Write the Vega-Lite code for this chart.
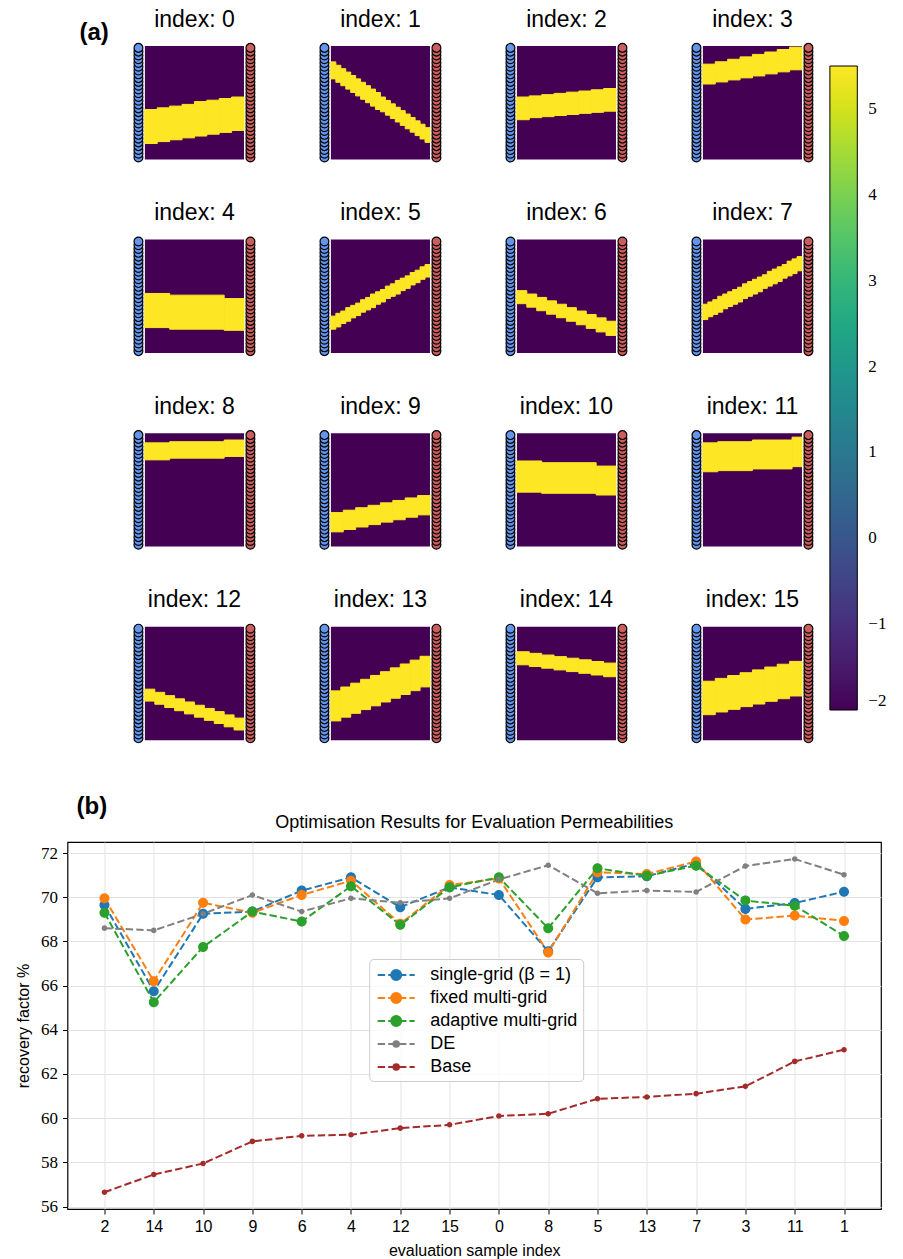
{
"$schema":"https://vega.github.io/schema/vega-lite/v6.json",
"padding":{"left":14.5,"top":8,"right":10,"bottom":5},
"background":"white",
"config":{"view":{"stroke":null},"font":"Liberation Sans","title":{"fontWeight":"normal","color":"black"}},
"datasets":{
"cells":[
{"p":0,"c0":0,"c1":20,"t":0,"b":1,"v":-2},{"p":1,"c0":0,"c1":20,"t":0,"b":1,"v":-2},{"p":2,"c0":0,"c1":20,"t":0,"b":1,"v":-2},{"p":3,"c0":0,"c1":20,"t":0,"b":1,"v":-2},
{"p":4,"c0":0,"c1":20,"t":0,"b":1,"v":-2},{"p":5,"c0":0,"c1":20,"t":0,"b":1,"v":-2},{"p":6,"c0":0,"c1":20,"t":0,"b":1,"v":-2},{"p":7,"c0":0,"c1":20,"t":0,"b":1,"v":-2},
{"p":8,"c0":0,"c1":20,"t":0,"b":1,"v":-2},{"p":9,"c0":0,"c1":20,"t":0,"b":1,"v":-2},{"p":10,"c0":0,"c1":20,"t":0,"b":1,"v":-2},{"p":11,"c0":0,"c1":20,"t":0,"b":1,"v":-2},
{"p":12,"c0":0,"c1":20,"t":0,"b":1,"v":-2},{"p":13,"c0":0,"c1":20,"t":0,"b":1,"v":-2},{"p":14,"c0":0,"c1":20,"t":0,"b":1,"v":-2},{"p":15,"c0":0,"c1":20,"t":0,"b":1,"v":-2},
{"p":0,"c0":0,"c1":2.5,"t":0.56,"b":0.86,"v":5.5},{"p":0,"c0":2.5,"c1":5,"t":0.545,"b":0.843,"v":5.5},{"p":0,"c0":5,"c1":7.5,"t":0.53,"b":0.827,"v":5.5},{"p":0,"c0":7.5,"c1":10,"t":0.515,"b":0.81,"v":5.5},
{"p":0,"c0":10,"c1":12.5,"t":0.49,"b":0.794,"v":5.5},{"p":0,"c0":12.5,"c1":15,"t":0.478,"b":0.778,"v":5.5},{"p":0,"c0":15,"c1":17.5,"t":0.463,"b":0.762,"v":5.5},{"p":0,"c0":17.5,"c1":20,"t":0.45,"b":0.745,"v":5.5},
{"p":1,"c0":0,"c1":1,"t":0.14,"b":0.29,"v":5.5},{"p":1,"c0":1,"c1":2,"t":0.17,"b":0.32,"v":5.5},{"p":1,"c0":2,"c1":3,"t":0.2,"b":0.35,"v":5.5},{"p":1,"c0":3,"c1":4,"t":0.23,"b":0.38,"v":5.5},
{"p":1,"c0":4,"c1":5,"t":0.26,"b":0.41,"v":5.5},{"p":1,"c0":5,"c1":6,"t":0.29,"b":0.44,"v":5.5},{"p":1,"c0":6,"c1":7,"t":0.32,"b":0.47,"v":5.5},{"p":1,"c0":7,"c1":8,"t":0.35,"b":0.5,"v":5.5},
{"p":1,"c0":8,"c1":9,"t":0.38,"b":0.53,"v":5.5},{"p":1,"c0":9,"c1":10,"t":0.41,"b":0.56,"v":5.5},{"p":1,"c0":10,"c1":11,"t":0.45,"b":0.58,"v":5.5},{"p":1,"c0":11,"c1":12,"t":0.48,"b":0.61,"v":5.5},
{"p":1,"c0":12,"c1":13,"t":0.51,"b":0.64,"v":5.5},{"p":1,"c0":13,"c1":14,"t":0.54,"b":0.67,"v":5.5},{"p":1,"c0":14,"c1":15,"t":0.57,"b":0.7,"v":5.5},{"p":1,"c0":15,"c1":16,"t":0.6,"b":0.73,"v":5.5},
{"p":1,"c0":16,"c1":17,"t":0.63,"b":0.76,"v":5.5},{"p":1,"c0":17,"c1":18,"t":0.66,"b":0.79,"v":5.5},{"p":1,"c0":18,"c1":19,"t":0.69,"b":0.82,"v":5.5},{"p":1,"c0":19,"c1":20,"t":0.72,"b":0.85,"v":5.5},
{"p":2,"c0":0,"c1":2.5,"t":0.45,"b":0.65,"v":5.5},{"p":2,"c0":2.5,"c1":5,"t":0.44,"b":0.632,"v":5.5},{"p":2,"c0":5,"c1":7.5,"t":0.429,"b":0.623,"v":5.5},{"p":2,"c0":7.5,"c1":10,"t":0.418,"b":0.613,"v":5.5},
{"p":2,"c0":10,"c1":12.5,"t":0.407,"b":0.604,"v":5.5},{"p":2,"c0":12.5,"c1":15,"t":0.397,"b":0.594,"v":5.5},{"p":2,"c0":15,"c1":17.5,"t":0.386,"b":0.585,"v":5.5},{"p":2,"c0":17.5,"c1":20,"t":0.375,"b":0.575,"v":5.5},
{"p":3,"c0":0,"c1":2.5,"t":0.16,"b":0.335,"v":5.5},{"p":3,"c0":2.5,"c1":5,"t":0.139,"b":0.317,"v":5.5},{"p":3,"c0":5,"c1":7.5,"t":0.117,"b":0.299,"v":5.5},{"p":3,"c0":7.5,"c1":10,"t":0.096,"b":0.281,"v":5.5},
{"p":3,"c0":10,"c1":12.5,"t":0.074,"b":0.264,"v":5.5},{"p":3,"c0":12.5,"c1":15,"t":0.053,"b":0.246,"v":5.5},{"p":3,"c0":15,"c1":17.5,"t":0.031,"b":0.228,"v":5.5},{"p":3,"c0":17.5,"c1":20,"t":0.01,"b":0.21,"v":5.5},
{"p":4,"c0":0,"c1":5,"t":0.475,"b":0.776,"v":5.5},{"p":4,"c0":5,"c1":16,"t":0.49,"b":0.79,"v":5.5},{"p":4,"c0":16,"c1":20,"t":0.52,"b":0.8,"v":5.5},
{"p":5,"c0":0,"c1":1,"t":0.675,"b":0.79,"v":5.5},{"p":5,"c0":1,"c1":2,"t":0.65,"b":0.77,"v":5.5},{"p":5,"c0":2,"c1":3,"t":0.63,"b":0.74,"v":5.5},{"p":5,"c0":3,"c1":4,"t":0.6,"b":0.72,"v":5.5},
{"p":5,"c0":4,"c1":5,"t":0.58,"b":0.69,"v":5.5},{"p":5,"c0":5,"c1":6,"t":0.56,"b":0.67,"v":5.5},{"p":5,"c0":6,"c1":7,"t":0.53,"b":0.64,"v":5.5},{"p":5,"c0":7,"c1":8,"t":0.51,"b":0.62,"v":5.5},
{"p":5,"c0":8,"c1":9,"t":0.48,"b":0.6,"v":5.5},{"p":5,"c0":9,"c1":10,"t":0.46,"b":0.57,"v":5.5},{"p":5,"c0":10,"c1":11,"t":0.44,"b":0.55,"v":5.5},{"p":5,"c0":11,"c1":12,"t":0.41,"b":0.52,"v":5.5},
{"p":5,"c0":12,"c1":13,"t":0.39,"b":0.5,"v":5.5},{"p":5,"c0":13,"c1":14,"t":0.36,"b":0.48,"v":5.5},{"p":5,"c0":14,"c1":15,"t":0.34,"b":0.45,"v":5.5},{"p":5,"c0":15,"c1":16,"t":0.32,"b":0.43,"v":5.5},
{"p":5,"c0":16,"c1":17,"t":0.29,"b":0.4,"v":5.5},{"p":5,"c0":17,"c1":18,"t":0.27,"b":0.38,"v":5.5},{"p":5,"c0":18,"c1":19,"t":0.24,"b":0.35,"v":5.5},{"p":5,"c0":19,"c1":20,"t":0.22,"b":0.33,"v":5.5},
{"p":6,"c0":0,"c1":2,"t":0.45,"b":0.565,"v":5.5},{"p":6,"c0":2,"c1":4,"t":0.48,"b":0.596,"v":5.5},{"p":6,"c0":4,"c1":6,"t":0.51,"b":0.627,"v":5.5},{"p":6,"c0":6,"c1":8,"t":0.54,"b":0.658,"v":5.5},
{"p":6,"c0":8,"c1":10,"t":0.57,"b":0.689,"v":5.5},{"p":6,"c0":10,"c1":12,"t":0.6,"b":0.72,"v":5.5},{"p":6,"c0":12,"c1":14,"t":0.63,"b":0.751,"v":5.5},{"p":6,"c0":14,"c1":16,"t":0.66,"b":0.783,"v":5.5},
{"p":6,"c0":16,"c1":18,"t":0.69,"b":0.814,"v":5.5},{"p":6,"c0":18,"c1":20,"t":0.72,"b":0.845,"v":5.5},
{"p":7,"c0":0,"c1":1,"t":0.57,"b":0.705,"v":5.5},{"p":7,"c0":1,"c1":2,"t":0.55,"b":0.68,"v":5.5},{"p":7,"c0":2,"c1":3,"t":0.53,"b":0.66,"v":5.5},{"p":7,"c0":3,"c1":4,"t":0.5,"b":0.64,"v":5.5},
{"p":7,"c0":4,"c1":5,"t":0.48,"b":0.61,"v":5.5},{"p":7,"c0":5,"c1":6,"t":0.46,"b":0.59,"v":5.5},{"p":7,"c0":6,"c1":7,"t":0.44,"b":0.57,"v":5.5},{"p":7,"c0":7,"c1":8,"t":0.42,"b":0.55,"v":5.5},
{"p":7,"c0":8,"c1":9,"t":0.39,"b":0.52,"v":5.5},{"p":7,"c0":9,"c1":10,"t":0.37,"b":0.5,"v":5.5},{"p":7,"c0":10,"c1":11,"t":0.35,"b":0.48,"v":5.5},{"p":7,"c0":11,"c1":12,"t":0.33,"b":0.46,"v":5.5},
{"p":7,"c0":12,"c1":13,"t":0.31,"b":0.43,"v":5.5},{"p":7,"c0":13,"c1":14,"t":0.28,"b":0.41,"v":5.5},{"p":7,"c0":14,"c1":15,"t":0.26,"b":0.39,"v":5.5},{"p":7,"c0":15,"c1":16,"t":0.24,"b":0.37,"v":5.5},
{"p":7,"c0":16,"c1":17,"t":0.22,"b":0.34,"v":5.5},{"p":7,"c0":17,"c1":18,"t":0.19,"b":0.32,"v":5.5},{"p":7,"c0":18,"c1":19,"t":0.17,"b":0.3,"v":5.5},{"p":7,"c0":19,"c1":20,"t":0.15,"b":0.275,"v":5.5},
{"p":8,"c0":0,"c1":5,"t":0.085,"b":0.235,"v":5.5},{"p":8,"c0":5,"c1":16,"t":0.075,"b":0.22,"v":5.5},{"p":8,"c0":16,"c1":20,"t":0.06,"b":0.205,"v":5.5},
{"p":9,"c0":0,"c1":2.5,"t":0.7,"b":0.87,"v":5.5},{"p":9,"c0":2.5,"c1":5,"t":0.679,"b":0.849,"v":5.5},{"p":9,"c0":5,"c1":7.5,"t":0.657,"b":0.827,"v":5.5},{"p":9,"c0":7.5,"c1":10,"t":0.636,"b":0.806,"v":5.5},
{"p":9,"c0":10,"c1":12.5,"t":0.614,"b":0.784,"v":5.5},{"p":9,"c0":12.5,"c1":15,"t":0.593,"b":0.763,"v":5.5},{"p":9,"c0":15,"c1":17.5,"t":0.571,"b":0.741,"v":5.5},{"p":9,"c0":17.5,"c1":20,"t":0.55,"b":0.72,"v":5.5},
{"p":10,"c0":0,"c1":5,"t":0.245,"b":0.52,"v":5.5},{"p":10,"c0":5,"c1":16,"t":0.26,"b":0.53,"v":5.5},{"p":10,"c0":16,"c1":20,"t":0.29,"b":0.545,"v":5.5},
{"p":11,"c0":0,"c1":3,"t":0.085,"b":0.34,"v":5.5},{"p":11,"c0":3,"c1":10,"t":0.075,"b":0.33,"v":5.5},{"p":11,"c0":10,"c1":18,"t":0.06,"b":0.315,"v":5.5},{"p":11,"c0":18,"c1":20,"t":0.035,"b":0.295,"v":5.5},
{"p":12,"c0":0,"c1":2,"t":0.55,"b":0.655,"v":5.5},{"p":12,"c0":2,"c1":4,"t":0.578,"b":0.683,"v":5.5},{"p":12,"c0":4,"c1":6,"t":0.607,"b":0.712,"v":5.5},{"p":12,"c0":6,"c1":8,"t":0.635,"b":0.74,"v":5.5},
{"p":12,"c0":8,"c1":10,"t":0.663,"b":0.768,"v":5.5},{"p":12,"c0":10,"c1":12,"t":0.692,"b":0.797,"v":5.5},{"p":12,"c0":12,"c1":14,"t":0.72,"b":0.825,"v":5.5},{"p":12,"c0":14,"c1":16,"t":0.748,"b":0.853,"v":5.5},
{"p":12,"c0":16,"c1":18,"t":0.777,"b":0.882,"v":5.5},{"p":12,"c0":18,"c1":20,"t":0.805,"b":0.91,"v":5.5},
{"p":13,"c0":0,"c1":2,"t":0.565,"b":0.83,"v":5.5},{"p":13,"c0":2,"c1":4,"t":0.531,"b":0.797,"v":5.5},{"p":13,"c0":4,"c1":6,"t":0.497,"b":0.763,"v":5.5},{"p":13,"c0":6,"c1":8,"t":0.463,"b":0.73,"v":5.5},
{"p":13,"c0":8,"c1":10,"t":0.429,"b":0.697,"v":5.5},{"p":13,"c0":10,"c1":12,"t":0.396,"b":0.663,"v":5.5},{"p":13,"c0":12,"c1":14,"t":0.362,"b":0.63,"v":5.5},{"p":13,"c0":14,"c1":16,"t":0.328,"b":0.597,"v":5.5},
{"p":13,"c0":16,"c1":18,"t":0.294,"b":0.563,"v":5.5},{"p":13,"c0":18,"c1":20,"t":0.26,"b":0.53,"v":5.5},
{"p":14,"c0":0,"c1":2.5,"t":0.22,"b":0.335,"v":5.5},{"p":14,"c0":2.5,"c1":5,"t":0.234,"b":0.35,"v":5.5},{"p":14,"c0":5,"c1":7.5,"t":0.249,"b":0.365,"v":5.5},{"p":14,"c0":7.5,"c1":10,"t":0.263,"b":0.38,"v":5.5},
{"p":14,"c0":10,"c1":12.5,"t":0.277,"b":0.395,"v":5.5},{"p":14,"c0":12.5,"c1":15,"t":0.291,"b":0.41,"v":5.5},{"p":14,"c0":15,"c1":17.5,"t":0.306,"b":0.425,"v":5.5},{"p":14,"c0":17.5,"c1":20,"t":0.32,"b":0.44,"v":5.5},
{"p":15,"c0":0,"c1":2.5,"t":0.48,"b":0.775,"v":5.5},{"p":15,"c0":2.5,"c1":5,"t":0.455,"b":0.751,"v":5.5},{"p":15,"c0":5,"c1":7.5,"t":0.43,"b":0.728,"v":5.5},{"p":15,"c0":7.5,"c1":10,"t":0.405,"b":0.704,"v":5.5},
{"p":15,"c0":10,"c1":12.5,"t":0.38,"b":0.681,"v":5.5},{"p":15,"c0":12.5,"c1":15,"t":0.355,"b":0.657,"v":5.5},{"p":15,"c0":15,"c1":17.5,"t":0.33,"b":0.634,"v":5.5},{"p":15,"c0":17.5,"c1":20,"t":0.305,"b":0.61,"v":5.5}
],
"wells":[
{"s":"inj","x":-1.3,"r":29.5},{"s":"inj","x":-1.3,"r":28.5},{"s":"inj","x":-1.3,"r":27.5},{"s":"inj","x":-1.3,"r":26.5},{"s":"inj","x":-1.3,"r":25.5},{"s":"inj","x":-1.3,"r":24.5},
{"s":"inj","x":-1.3,"r":23.5},{"s":"inj","x":-1.3,"r":22.5},{"s":"inj","x":-1.3,"r":21.5},{"s":"inj","x":-1.3,"r":20.5},{"s":"inj","x":-1.3,"r":19.5},{"s":"inj","x":-1.3,"r":18.5},
{"s":"inj","x":-1.3,"r":17.5},{"s":"inj","x":-1.3,"r":16.5},{"s":"inj","x":-1.3,"r":15.5},{"s":"inj","x":-1.3,"r":14.5},{"s":"inj","x":-1.3,"r":13.5},{"s":"inj","x":-1.3,"r":12.5},
{"s":"inj","x":-1.3,"r":11.5},{"s":"inj","x":-1.3,"r":10.5},{"s":"inj","x":-1.3,"r":9.5},{"s":"inj","x":-1.3,"r":8.5},{"s":"inj","x":-1.3,"r":7.5},{"s":"inj","x":-1.3,"r":6.5},
{"s":"inj","x":-1.3,"r":5.5},{"s":"inj","x":-1.3,"r":4.5},{"s":"inj","x":-1.3,"r":3.5},{"s":"inj","x":-1.3,"r":2.5},{"s":"inj","x":-1.3,"r":1.5},{"s":"inj","x":-1.3,"r":0.5},
{"s":"prod","x":21.3,"r":29.5},{"s":"prod","x":21.3,"r":28.5},{"s":"prod","x":21.3,"r":27.5},{"s":"prod","x":21.3,"r":26.5},{"s":"prod","x":21.3,"r":25.5},{"s":"prod","x":21.3,"r":24.5},
{"s":"prod","x":21.3,"r":23.5},{"s":"prod","x":21.3,"r":22.5},{"s":"prod","x":21.3,"r":21.5},{"s":"prod","x":21.3,"r":20.5},{"s":"prod","x":21.3,"r":19.5},{"s":"prod","x":21.3,"r":18.5},
{"s":"prod","x":21.3,"r":17.5},{"s":"prod","x":21.3,"r":16.5},{"s":"prod","x":21.3,"r":15.5},{"s":"prod","x":21.3,"r":14.5},{"s":"prod","x":21.3,"r":13.5},{"s":"prod","x":21.3,"r":12.5},
{"s":"prod","x":21.3,"r":11.5},{"s":"prod","x":21.3,"r":10.5},{"s":"prod","x":21.3,"r":9.5},{"s":"prod","x":21.3,"r":8.5},{"s":"prod","x":21.3,"r":7.5},{"s":"prod","x":21.3,"r":6.5},
{"s":"prod","x":21.3,"r":5.5},{"s":"prod","x":21.3,"r":4.5},{"s":"prod","x":21.3,"r":3.5},{"s":"prod","x":21.3,"r":2.5},{"s":"prod","x":21.3,"r":1.5},{"s":"prod","x":21.3,"r":0.5}
],
"results":[
{"idx":2,"series":"single-grid (β = 1)","rf":69.65},{"idx":14,"series":"single-grid (β = 1)","rf":65.75},{"idx":10,"series":"single-grid (β = 1)","rf":69.25},{"idx":9,"series":"single-grid (β = 1)","rf":69.35},
{"idx":6,"series":"single-grid (β = 1)","rf":70.3},{"idx":4,"series":"single-grid (β = 1)","rf":70.9},{"idx":12,"series":"single-grid (β = 1)","rf":69.55},{"idx":15,"series":"single-grid (β = 1)","rf":70.45},
{"idx":0,"series":"single-grid (β = 1)","rf":70.1},{"idx":8,"series":"single-grid (β = 1)","rf":67.55},{"idx":5,"series":"single-grid (β = 1)","rf":70.9},{"idx":13,"series":"single-grid (β = 1)","rf":70.95},
{"idx":7,"series":"single-grid (β = 1)","rf":71.53},{"idx":3,"series":"single-grid (β = 1)","rf":69.47},{"idx":11,"series":"single-grid (β = 1)","rf":69.74},{"idx":1,"series":"single-grid (β = 1)","rf":70.25},
{"idx":2,"series":"fixed multi-grid","rf":69.95},{"idx":14,"series":"fixed multi-grid","rf":66.2},{"idx":10,"series":"fixed multi-grid","rf":69.75},{"idx":9,"series":"fixed multi-grid","rf":69.3},
{"idx":6,"series":"fixed multi-grid","rf":70.1},{"idx":4,"series":"fixed multi-grid","rf":70.75},{"idx":12,"series":"fixed multi-grid","rf":68.8},{"idx":15,"series":"fixed multi-grid","rf":70.55},
{"idx":0,"series":"fixed multi-grid","rf":70.85},{"idx":8,"series":"fixed multi-grid","rf":67.5},{"idx":5,"series":"fixed multi-grid","rf":71.13},{"idx":13,"series":"fixed multi-grid","rf":71.05},
{"idx":7,"series":"fixed multi-grid","rf":71.62},{"idx":3,"series":"fixed multi-grid","rf":68.99},{"idx":11,"series":"fixed multi-grid","rf":69.17},{"idx":1,"series":"fixed multi-grid","rf":68.93},
{"idx":2,"series":"adaptive multi-grid","rf":69.3},{"idx":14,"series":"adaptive multi-grid","rf":65.25},{"idx":10,"series":"adaptive multi-grid","rf":67.75},{"idx":9,"series":"adaptive multi-grid","rf":69.35},
{"idx":6,"series":"adaptive multi-grid","rf":68.9},{"idx":4,"series":"adaptive multi-grid","rf":70.5},{"idx":12,"series":"adaptive multi-grid","rf":68.75},{"idx":15,"series":"adaptive multi-grid","rf":70.45},
{"idx":0,"series":"adaptive multi-grid","rf":70.9},{"idx":8,"series":"adaptive multi-grid","rf":68.6},{"idx":5,"series":"adaptive multi-grid","rf":71.31},{"idx":13,"series":"adaptive multi-grid","rf":70.97},
{"idx":7,"series":"adaptive multi-grid","rf":71.43},{"idx":3,"series":"adaptive multi-grid","rf":69.85},{"idx":11,"series":"adaptive multi-grid","rf":69.62},{"idx":1,"series":"adaptive multi-grid","rf":68.25},
{"idx":2,"series":"DE","rf":68.6},{"idx":14,"series":"DE","rf":68.5},{"idx":10,"series":"DE","rf":69.25},{"idx":9,"series":"DE","rf":70.1},
{"idx":6,"series":"DE","rf":69.35},{"idx":4,"series":"DE","rf":69.95},{"idx":12,"series":"DE","rf":69.75},{"idx":15,"series":"DE","rf":69.95},
{"idx":0,"series":"DE","rf":70.8},{"idx":8,"series":"DE","rf":71.45},{"idx":5,"series":"DE","rf":70.18},{"idx":13,"series":"DE","rf":70.3},
{"idx":7,"series":"DE","rf":70.24},{"idx":3,"series":"DE","rf":71.41},{"idx":11,"series":"DE","rf":71.73},{"idx":1,"series":"DE","rf":71.02},
{"idx":2,"series":"Base","rf":56.65},{"idx":14,"series":"Base","rf":57.45},{"idx":10,"series":"Base","rf":57.95},{"idx":9,"series":"Base","rf":58.95},
{"idx":6,"series":"Base","rf":59.2},{"idx":4,"series":"Base","rf":59.25},{"idx":12,"series":"Base","rf":59.55},{"idx":15,"series":"Base","rf":59.7},
{"idx":0,"series":"Base","rf":60.1},{"idx":8,"series":"Base","rf":60.2},{"idx":5,"series":"Base","rf":60.88},{"idx":13,"series":"Base","rf":60.96},
{"idx":7,"series":"Base","rf":61.11},{"idx":3,"series":"Base","rf":61.44},{"idx":11,"series":"Base","rf":62.57},{"idx":1,"series":"Base","rf":63.1}
]
},
"spacing":49,
"resolve":{"scale":{"color":"independent","stroke":"independent","shape":"independent","fill":"independent"},"legend":{"color":"independent","stroke":"independent","shape":"independent","fill":"independent"}},
"vconcat":[
{
"title":{"text":"(a)","anchor":"start","frame":"group","fontSize":24,"fontWeight":"bold","dx":12,"dy":60,"offset":0,"baseline":"bottom"},
"columns":4,
"spacing":{"row":79.6,"column":0},
"bounds":"flush",
"concat":[
{"width":185.5,"height":113.4,"title":{"text":"index: 0","dx":34.2,"dy":26.5,"frame":"group","offset":13,"baseline":"bottom","fontSize":23,"anchor":"middle"},"data":{"name":"cells"},"transform":[{"filter":"datum.p == 0"}],
"layer":[
{"transform":[{"filter":"datum.v < 0"}],"mark":"rect","encoding":{"x":{"field":"c0","type":"quantitative","scale":{"domain":[-15.62,21.82],"nice":false,"zero":false},"axis":null},"x2":{"field":"c1"},"y":{"field":"t","type":"quantitative","scale":{"domain":[0,1],"reverse":true,"nice":false,"zero":false},"axis":null},"y2":{"field":"b"},"color":{"field":"v","type":"quantitative","scale":{"scheme":"viridis","domain":[-2,5.5],"nice":false,"zero":false},"legend":{"title":null,"orient":"none","legendX":762.4,"legendY":20,"direction":"vertical","gradientLength":644,"gradientThickness":27.4,"gradientStrokeColor":"black","gradientStrokeWidth":1,"values":[-2,-1,0,1,2,3,4,5],"format":"d","labelFont":"Liberation Serif","labelFontSize":17,"labelColor":"black","labelOffset":11,"labelBaseline":"middle","labelOverlap":false,"padding":0}}}},
{"transform":[{"filter":"datum.v > 0"}],"mark":{"type":"rect","stroke":"#fde725","strokeWidth":1},"encoding":{"x":{"field":"c0","type":"quantitative","scale":{"domain":[-15.62,21.82],"nice":false,"zero":false},"axis":null},"x2":{"field":"c1"},"y":{"field":"t","type":"quantitative","scale":{"domain":[0,1],"reverse":true,"nice":false,"zero":false},"axis":null},"y2":{"field":"b"},"color":{"field":"v","type":"quantitative","scale":{"scheme":"viridis","domain":[-2,5.5],"nice":false,"zero":false}}}},
{"data":{"name":"wells"},"mark":{"type":"point","filled":true,"shape":"circle","size":78,"stroke":"black","strokeWidth":1.2,"opacity":1},"encoding":{"x":{"field":"x","type":"quantitative","scale":{"domain":[-15.62,21.82],"nice":false,"zero":false},"axis":null},"y":{"field":"r","type":"quantitative","scale":{"domain":[0,30],"reverse":true,"nice":false,"zero":false},"axis":null},"fill":{"field":"s","type":"nominal","scale":{"domain":["inj","prod"],"range":["#6495ed","#cd5c5c"]},"legend":null}}}
],"resolve":{"scale":{"y":"independent"}}},
{"width":185.5,"height":113.4,"title":{"text":"index: 1","dx":34.2,"dy":26.5,"frame":"group","offset":13,"baseline":"bottom","fontSize":23,"anchor":"middle"},"data":{"name":"cells"},"transform":[{"filter":"datum.p == 1"}],
"layer":[
{"transform":[{"filter":"datum.v < 0"}],"mark":"rect","encoding":{"x":{"field":"c0","type":"quantitative","scale":{"domain":[-15.62,21.82],"nice":false,"zero":false},"axis":null},"x2":{"field":"c1"},"y":{"field":"t","type":"quantitative","scale":{"domain":[0,1],"reverse":true,"nice":false,"zero":false},"axis":null},"y2":{"field":"b"},"color":{"field":"v","type":"quantitative","scale":{"scheme":"viridis","domain":[-2,5.5],"nice":false,"zero":false}}}},
{"transform":[{"filter":"datum.v > 0"}],"mark":{"type":"rect","stroke":"#fde725","strokeWidth":1},"encoding":{"x":{"field":"c0","type":"quantitative","scale":{"domain":[-15.62,21.82],"nice":false,"zero":false},"axis":null},"x2":{"field":"c1"},"y":{"field":"t","type":"quantitative","scale":{"domain":[0,1],"reverse":true,"nice":false,"zero":false},"axis":null},"y2":{"field":"b"},"color":{"field":"v","type":"quantitative","scale":{"scheme":"viridis","domain":[-2,5.5],"nice":false,"zero":false}}}},
{"data":{"name":"wells"},"mark":{"type":"point","filled":true,"shape":"circle","size":78,"stroke":"black","strokeWidth":1.2,"opacity":1},"encoding":{"x":{"field":"x","type":"quantitative","scale":{"domain":[-15.62,21.82],"nice":false,"zero":false},"axis":null},"y":{"field":"r","type":"quantitative","scale":{"domain":[0,30],"reverse":true,"nice":false,"zero":false},"axis":null},"fill":{"field":"s","type":"nominal","scale":{"domain":["inj","prod"],"range":["#6495ed","#cd5c5c"]},"legend":null}}}
],"resolve":{"scale":{"y":"independent"}}},
{"width":185.5,"height":113.4,"title":{"text":"index: 2","dx":34.2,"dy":26.5,"frame":"group","offset":13,"baseline":"bottom","fontSize":23,"anchor":"middle"},"data":{"name":"cells"},"transform":[{"filter":"datum.p == 2"}],
"layer":[
{"transform":[{"filter":"datum.v < 0"}],"mark":"rect","encoding":{"x":{"field":"c0","type":"quantitative","scale":{"domain":[-15.62,21.82],"nice":false,"zero":false},"axis":null},"x2":{"field":"c1"},"y":{"field":"t","type":"quantitative","scale":{"domain":[0,1],"reverse":true,"nice":false,"zero":false},"axis":null},"y2":{"field":"b"},"color":{"field":"v","type":"quantitative","scale":{"scheme":"viridis","domain":[-2,5.5],"nice":false,"zero":false}}}},
{"transform":[{"filter":"datum.v > 0"}],"mark":{"type":"rect","stroke":"#fde725","strokeWidth":1},"encoding":{"x":{"field":"c0","type":"quantitative","scale":{"domain":[-15.62,21.82],"nice":false,"zero":false},"axis":null},"x2":{"field":"c1"},"y":{"field":"t","type":"quantitative","scale":{"domain":[0,1],"reverse":true,"nice":false,"zero":false},"axis":null},"y2":{"field":"b"},"color":{"field":"v","type":"quantitative","scale":{"scheme":"viridis","domain":[-2,5.5],"nice":false,"zero":false}}}},
{"data":{"name":"wells"},"mark":{"type":"point","filled":true,"shape":"circle","size":78,"stroke":"black","strokeWidth":1.2,"opacity":1},"encoding":{"x":{"field":"x","type":"quantitative","scale":{"domain":[-15.62,21.82],"nice":false,"zero":false},"axis":null},"y":{"field":"r","type":"quantitative","scale":{"domain":[0,30],"reverse":true,"nice":false,"zero":false},"axis":null},"fill":{"field":"s","type":"nominal","scale":{"domain":["inj","prod"],"range":["#6495ed","#cd5c5c"]},"legend":null}}}
],"resolve":{"scale":{"y":"independent"}}},
{"width":185.5,"height":113.4,"title":{"text":"index: 3","dx":34.2,"dy":26.5,"frame":"group","offset":13,"baseline":"bottom","fontSize":23,"anchor":"middle"},"data":{"name":"cells"},"transform":[{"filter":"datum.p == 3"}],
"layer":[
{"transform":[{"filter":"datum.v < 0"}],"mark":"rect","encoding":{"x":{"field":"c0","type":"quantitative","scale":{"domain":[-15.62,21.82],"nice":false,"zero":false},"axis":null},"x2":{"field":"c1"},"y":{"field":"t","type":"quantitative","scale":{"domain":[0,1],"reverse":true,"nice":false,"zero":false},"axis":null},"y2":{"field":"b"},"color":{"field":"v","type":"quantitative","scale":{"scheme":"viridis","domain":[-2,5.5],"nice":false,"zero":false}}}},
{"transform":[{"filter":"datum.v > 0"}],"mark":{"type":"rect","stroke":"#fde725","strokeWidth":1},"encoding":{"x":{"field":"c0","type":"quantitative","scale":{"domain":[-15.62,21.82],"nice":false,"zero":false},"axis":null},"x2":{"field":"c1"},"y":{"field":"t","type":"quantitative","scale":{"domain":[0,1],"reverse":true,"nice":false,"zero":false},"axis":null},"y2":{"field":"b"},"color":{"field":"v","type":"quantitative","scale":{"scheme":"viridis","domain":[-2,5.5],"nice":false,"zero":false}}}},
{"data":{"name":"wells"},"mark":{"type":"point","filled":true,"shape":"circle","size":78,"stroke":"black","strokeWidth":1.2,"opacity":1},"encoding":{"x":{"field":"x","type":"quantitative","scale":{"domain":[-15.62,21.82],"nice":false,"zero":false},"axis":null},"y":{"field":"r","type":"quantitative","scale":{"domain":[0,30],"reverse":true,"nice":false,"zero":false},"axis":null},"fill":{"field":"s","type":"nominal","scale":{"domain":["inj","prod"],"range":["#6495ed","#cd5c5c"]},"legend":null}}}
],"resolve":{"scale":{"y":"independent"}}},
{"width":185.5,"height":113.4,"title":{"text":"index: 4","dx":34.2,"dy":26.5,"frame":"group","offset":13,"baseline":"bottom","fontSize":23,"anchor":"middle"},"data":{"name":"cells"},"transform":[{"filter":"datum.p == 4"}],
"layer":[
{"transform":[{"filter":"datum.v < 0"}],"mark":"rect","encoding":{"x":{"field":"c0","type":"quantitative","scale":{"domain":[-15.62,21.82],"nice":false,"zero":false},"axis":null},"x2":{"field":"c1"},"y":{"field":"t","type":"quantitative","scale":{"domain":[0,1],"reverse":true,"nice":false,"zero":false},"axis":null},"y2":{"field":"b"},"color":{"field":"v","type":"quantitative","scale":{"scheme":"viridis","domain":[-2,5.5],"nice":false,"zero":false}}}},
{"transform":[{"filter":"datum.v > 0"}],"mark":{"type":"rect","stroke":"#fde725","strokeWidth":1},"encoding":{"x":{"field":"c0","type":"quantitative","scale":{"domain":[-15.62,21.82],"nice":false,"zero":false},"axis":null},"x2":{"field":"c1"},"y":{"field":"t","type":"quantitative","scale":{"domain":[0,1],"reverse":true,"nice":false,"zero":false},"axis":null},"y2":{"field":"b"},"color":{"field":"v","type":"quantitative","scale":{"scheme":"viridis","domain":[-2,5.5],"nice":false,"zero":false}}}},
{"data":{"name":"wells"},"mark":{"type":"point","filled":true,"shape":"circle","size":78,"stroke":"black","strokeWidth":1.2,"opacity":1},"encoding":{"x":{"field":"x","type":"quantitative","scale":{"domain":[-15.62,21.82],"nice":false,"zero":false},"axis":null},"y":{"field":"r","type":"quantitative","scale":{"domain":[0,30],"reverse":true,"nice":false,"zero":false},"axis":null},"fill":{"field":"s","type":"nominal","scale":{"domain":["inj","prod"],"range":["#6495ed","#cd5c5c"]},"legend":null}}}
],"resolve":{"scale":{"y":"independent"}}},
{"width":185.5,"height":113.4,"title":{"text":"index: 5","dx":34.2,"dy":26.5,"frame":"group","offset":13,"baseline":"bottom","fontSize":23,"anchor":"middle"},"data":{"name":"cells"},"transform":[{"filter":"datum.p == 5"}],
"layer":[
{"transform":[{"filter":"datum.v < 0"}],"mark":"rect","encoding":{"x":{"field":"c0","type":"quantitative","scale":{"domain":[-15.62,21.82],"nice":false,"zero":false},"axis":null},"x2":{"field":"c1"},"y":{"field":"t","type":"quantitative","scale":{"domain":[0,1],"reverse":true,"nice":false,"zero":false},"axis":null},"y2":{"field":"b"},"color":{"field":"v","type":"quantitative","scale":{"scheme":"viridis","domain":[-2,5.5],"nice":false,"zero":false}}}},
{"transform":[{"filter":"datum.v > 0"}],"mark":{"type":"rect","stroke":"#fde725","strokeWidth":1},"encoding":{"x":{"field":"c0","type":"quantitative","scale":{"domain":[-15.62,21.82],"nice":false,"zero":false},"axis":null},"x2":{"field":"c1"},"y":{"field":"t","type":"quantitative","scale":{"domain":[0,1],"reverse":true,"nice":false,"zero":false},"axis":null},"y2":{"field":"b"},"color":{"field":"v","type":"quantitative","scale":{"scheme":"viridis","domain":[-2,5.5],"nice":false,"zero":false}}}},
{"data":{"name":"wells"},"mark":{"type":"point","filled":true,"shape":"circle","size":78,"stroke":"black","strokeWidth":1.2,"opacity":1},"encoding":{"x":{"field":"x","type":"quantitative","scale":{"domain":[-15.62,21.82],"nice":false,"zero":false},"axis":null},"y":{"field":"r","type":"quantitative","scale":{"domain":[0,30],"reverse":true,"nice":false,"zero":false},"axis":null},"fill":{"field":"s","type":"nominal","scale":{"domain":["inj","prod"],"range":["#6495ed","#cd5c5c"]},"legend":null}}}
],"resolve":{"scale":{"y":"independent"}}},
{"width":185.5,"height":113.4,"title":{"text":"index: 6","dx":34.2,"dy":26.5,"frame":"group","offset":13,"baseline":"bottom","fontSize":23,"anchor":"middle"},"data":{"name":"cells"},"transform":[{"filter":"datum.p == 6"}],
"layer":[
{"transform":[{"filter":"datum.v < 0"}],"mark":"rect","encoding":{"x":{"field":"c0","type":"quantitative","scale":{"domain":[-15.62,21.82],"nice":false,"zero":false},"axis":null},"x2":{"field":"c1"},"y":{"field":"t","type":"quantitative","scale":{"domain":[0,1],"reverse":true,"nice":false,"zero":false},"axis":null},"y2":{"field":"b"},"color":{"field":"v","type":"quantitative","scale":{"scheme":"viridis","domain":[-2,5.5],"nice":false,"zero":false}}}},
{"transform":[{"filter":"datum.v > 0"}],"mark":{"type":"rect","stroke":"#fde725","strokeWidth":1},"encoding":{"x":{"field":"c0","type":"quantitative","scale":{"domain":[-15.62,21.82],"nice":false,"zero":false},"axis":null},"x2":{"field":"c1"},"y":{"field":"t","type":"quantitative","scale":{"domain":[0,1],"reverse":true,"nice":false,"zero":false},"axis":null},"y2":{"field":"b"},"color":{"field":"v","type":"quantitative","scale":{"scheme":"viridis","domain":[-2,5.5],"nice":false,"zero":false}}}},
{"data":{"name":"wells"},"mark":{"type":"point","filled":true,"shape":"circle","size":78,"stroke":"black","strokeWidth":1.2,"opacity":1},"encoding":{"x":{"field":"x","type":"quantitative","scale":{"domain":[-15.62,21.82],"nice":false,"zero":false},"axis":null},"y":{"field":"r","type":"quantitative","scale":{"domain":[0,30],"reverse":true,"nice":false,"zero":false},"axis":null},"fill":{"field":"s","type":"nominal","scale":{"domain":["inj","prod"],"range":["#6495ed","#cd5c5c"]},"legend":null}}}
],"resolve":{"scale":{"y":"independent"}}},
{"width":185.5,"height":113.4,"title":{"text":"index: 7","dx":34.2,"dy":26.5,"frame":"group","offset":13,"baseline":"bottom","fontSize":23,"anchor":"middle"},"data":{"name":"cells"},"transform":[{"filter":"datum.p == 7"}],
"layer":[
{"transform":[{"filter":"datum.v < 0"}],"mark":"rect","encoding":{"x":{"field":"c0","type":"quantitative","scale":{"domain":[-15.62,21.82],"nice":false,"zero":false},"axis":null},"x2":{"field":"c1"},"y":{"field":"t","type":"quantitative","scale":{"domain":[0,1],"reverse":true,"nice":false,"zero":false},"axis":null},"y2":{"field":"b"},"color":{"field":"v","type":"quantitative","scale":{"scheme":"viridis","domain":[-2,5.5],"nice":false,"zero":false}}}},
{"transform":[{"filter":"datum.v > 0"}],"mark":{"type":"rect","stroke":"#fde725","strokeWidth":1},"encoding":{"x":{"field":"c0","type":"quantitative","scale":{"domain":[-15.62,21.82],"nice":false,"zero":false},"axis":null},"x2":{"field":"c1"},"y":{"field":"t","type":"quantitative","scale":{"domain":[0,1],"reverse":true,"nice":false,"zero":false},"axis":null},"y2":{"field":"b"},"color":{"field":"v","type":"quantitative","scale":{"scheme":"viridis","domain":[-2,5.5],"nice":false,"zero":false}}}},
{"data":{"name":"wells"},"mark":{"type":"point","filled":true,"shape":"circle","size":78,"stroke":"black","strokeWidth":1.2,"opacity":1},"encoding":{"x":{"field":"x","type":"quantitative","scale":{"domain":[-15.62,21.82],"nice":false,"zero":false},"axis":null},"y":{"field":"r","type":"quantitative","scale":{"domain":[0,30],"reverse":true,"nice":false,"zero":false},"axis":null},"fill":{"field":"s","type":"nominal","scale":{"domain":["inj","prod"],"range":["#6495ed","#cd5c5c"]},"legend":null}}}
],"resolve":{"scale":{"y":"independent"}}},
{"width":185.5,"height":113.4,"title":{"text":"index: 8","dx":34.2,"dy":26.5,"frame":"group","offset":13,"baseline":"bottom","fontSize":23,"anchor":"middle"},"data":{"name":"cells"},"transform":[{"filter":"datum.p == 8"}],
"layer":[
{"transform":[{"filter":"datum.v < 0"}],"mark":"rect","encoding":{"x":{"field":"c0","type":"quantitative","scale":{"domain":[-15.62,21.82],"nice":false,"zero":false},"axis":null},"x2":{"field":"c1"},"y":{"field":"t","type":"quantitative","scale":{"domain":[0,1],"reverse":true,"nice":false,"zero":false},"axis":null},"y2":{"field":"b"},"color":{"field":"v","type":"quantitative","scale":{"scheme":"viridis","domain":[-2,5.5],"nice":false,"zero":false}}}},
{"transform":[{"filter":"datum.v > 0"}],"mark":{"type":"rect","stroke":"#fde725","strokeWidth":1},"encoding":{"x":{"field":"c0","type":"quantitative","scale":{"domain":[-15.62,21.82],"nice":false,"zero":false},"axis":null},"x2":{"field":"c1"},"y":{"field":"t","type":"quantitative","scale":{"domain":[0,1],"reverse":true,"nice":false,"zero":false},"axis":null},"y2":{"field":"b"},"color":{"field":"v","type":"quantitative","scale":{"scheme":"viridis","domain":[-2,5.5],"nice":false,"zero":false}}}},
{"data":{"name":"wells"},"mark":{"type":"point","filled":true,"shape":"circle","size":78,"stroke":"black","strokeWidth":1.2,"opacity":1},"encoding":{"x":{"field":"x","type":"quantitative","scale":{"domain":[-15.62,21.82],"nice":false,"zero":false},"axis":null},"y":{"field":"r","type":"quantitative","scale":{"domain":[0,30],"reverse":true,"nice":false,"zero":false},"axis":null},"fill":{"field":"s","type":"nominal","scale":{"domain":["inj","prod"],"range":["#6495ed","#cd5c5c"]},"legend":null}}}
],"resolve":{"scale":{"y":"independent"}}},
{"width":185.5,"height":113.4,"title":{"text":"index: 9","dx":34.2,"dy":26.5,"frame":"group","offset":13,"baseline":"bottom","fontSize":23,"anchor":"middle"},"data":{"name":"cells"},"transform":[{"filter":"datum.p == 9"}],
"layer":[
{"transform":[{"filter":"datum.v < 0"}],"mark":"rect","encoding":{"x":{"field":"c0","type":"quantitative","scale":{"domain":[-15.62,21.82],"nice":false,"zero":false},"axis":null},"x2":{"field":"c1"},"y":{"field":"t","type":"quantitative","scale":{"domain":[0,1],"reverse":true,"nice":false,"zero":false},"axis":null},"y2":{"field":"b"},"color":{"field":"v","type":"quantitative","scale":{"scheme":"viridis","domain":[-2,5.5],"nice":false,"zero":false}}}},
{"transform":[{"filter":"datum.v > 0"}],"mark":{"type":"rect","stroke":"#fde725","strokeWidth":1},"encoding":{"x":{"field":"c0","type":"quantitative","scale":{"domain":[-15.62,21.82],"nice":false,"zero":false},"axis":null},"x2":{"field":"c1"},"y":{"field":"t","type":"quantitative","scale":{"domain":[0,1],"reverse":true,"nice":false,"zero":false},"axis":null},"y2":{"field":"b"},"color":{"field":"v","type":"quantitative","scale":{"scheme":"viridis","domain":[-2,5.5],"nice":false,"zero":false}}}},
{"data":{"name":"wells"},"mark":{"type":"point","filled":true,"shape":"circle","size":78,"stroke":"black","strokeWidth":1.2,"opacity":1},"encoding":{"x":{"field":"x","type":"quantitative","scale":{"domain":[-15.62,21.82],"nice":false,"zero":false},"axis":null},"y":{"field":"r","type":"quantitative","scale":{"domain":[0,30],"reverse":true,"nice":false,"zero":false},"axis":null},"fill":{"field":"s","type":"nominal","scale":{"domain":["inj","prod"],"range":["#6495ed","#cd5c5c"]},"legend":null}}}
],"resolve":{"scale":{"y":"independent"}}},
{"width":185.5,"height":113.4,"title":{"text":"index: 10","dx":34.2,"dy":26.5,"frame":"group","offset":13,"baseline":"bottom","fontSize":23,"anchor":"middle"},"data":{"name":"cells"},"transform":[{"filter":"datum.p == 10"}],
"layer":[
{"transform":[{"filter":"datum.v < 0"}],"mark":"rect","encoding":{"x":{"field":"c0","type":"quantitative","scale":{"domain":[-15.62,21.82],"nice":false,"zero":false},"axis":null},"x2":{"field":"c1"},"y":{"field":"t","type":"quantitative","scale":{"domain":[0,1],"reverse":true,"nice":false,"zero":false},"axis":null},"y2":{"field":"b"},"color":{"field":"v","type":"quantitative","scale":{"scheme":"viridis","domain":[-2,5.5],"nice":false,"zero":false}}}},
{"transform":[{"filter":"datum.v > 0"}],"mark":{"type":"rect","stroke":"#fde725","strokeWidth":1},"encoding":{"x":{"field":"c0","type":"quantitative","scale":{"domain":[-15.62,21.82],"nice":false,"zero":false},"axis":null},"x2":{"field":"c1"},"y":{"field":"t","type":"quantitative","scale":{"domain":[0,1],"reverse":true,"nice":false,"zero":false},"axis":null},"y2":{"field":"b"},"color":{"field":"v","type":"quantitative","scale":{"scheme":"viridis","domain":[-2,5.5],"nice":false,"zero":false}}}},
{"data":{"name":"wells"},"mark":{"type":"point","filled":true,"shape":"circle","size":78,"stroke":"black","strokeWidth":1.2,"opacity":1},"encoding":{"x":{"field":"x","type":"quantitative","scale":{"domain":[-15.62,21.82],"nice":false,"zero":false},"axis":null},"y":{"field":"r","type":"quantitative","scale":{"domain":[0,30],"reverse":true,"nice":false,"zero":false},"axis":null},"fill":{"field":"s","type":"nominal","scale":{"domain":["inj","prod"],"range":["#6495ed","#cd5c5c"]},"legend":null}}}
],"resolve":{"scale":{"y":"independent"}}},
{"width":185.5,"height":113.4,"title":{"text":"index: 11","dx":34.2,"dy":26.5,"frame":"group","offset":13,"baseline":"bottom","fontSize":23,"anchor":"middle"},"data":{"name":"cells"},"transform":[{"filter":"datum.p == 11"}],
"layer":[
{"transform":[{"filter":"datum.v < 0"}],"mark":"rect","encoding":{"x":{"field":"c0","type":"quantitative","scale":{"domain":[-15.62,21.82],"nice":false,"zero":false},"axis":null},"x2":{"field":"c1"},"y":{"field":"t","type":"quantitative","scale":{"domain":[0,1],"reverse":true,"nice":false,"zero":false},"axis":null},"y2":{"field":"b"},"color":{"field":"v","type":"quantitative","scale":{"scheme":"viridis","domain":[-2,5.5],"nice":false,"zero":false}}}},
{"transform":[{"filter":"datum.v > 0"}],"mark":{"type":"rect","stroke":"#fde725","strokeWidth":1},"encoding":{"x":{"field":"c0","type":"quantitative","scale":{"domain":[-15.62,21.82],"nice":false,"zero":false},"axis":null},"x2":{"field":"c1"},"y":{"field":"t","type":"quantitative","scale":{"domain":[0,1],"reverse":true,"nice":false,"zero":false},"axis":null},"y2":{"field":"b"},"color":{"field":"v","type":"quantitative","scale":{"scheme":"viridis","domain":[-2,5.5],"nice":false,"zero":false}}}},
{"data":{"name":"wells"},"mark":{"type":"point","filled":true,"shape":"circle","size":78,"stroke":"black","strokeWidth":1.2,"opacity":1},"encoding":{"x":{"field":"x","type":"quantitative","scale":{"domain":[-15.62,21.82],"nice":false,"zero":false},"axis":null},"y":{"field":"r","type":"quantitative","scale":{"domain":[0,30],"reverse":true,"nice":false,"zero":false},"axis":null},"fill":{"field":"s","type":"nominal","scale":{"domain":["inj","prod"],"range":["#6495ed","#cd5c5c"]},"legend":null}}}
],"resolve":{"scale":{"y":"independent"}}},
{"width":185.5,"height":113.4,"title":{"text":"index: 12","dx":34.2,"dy":26.5,"frame":"group","offset":13,"baseline":"bottom","fontSize":23,"anchor":"middle"},"data":{"name":"cells"},"transform":[{"filter":"datum.p == 12"}],
"layer":[
{"transform":[{"filter":"datum.v < 0"}],"mark":"rect","encoding":{"x":{"field":"c0","type":"quantitative","scale":{"domain":[-15.62,21.82],"nice":false,"zero":false},"axis":null},"x2":{"field":"c1"},"y":{"field":"t","type":"quantitative","scale":{"domain":[0,1],"reverse":true,"nice":false,"zero":false},"axis":null},"y2":{"field":"b"},"color":{"field":"v","type":"quantitative","scale":{"scheme":"viridis","domain":[-2,5.5],"nice":false,"zero":false}}}},
{"transform":[{"filter":"datum.v > 0"}],"mark":{"type":"rect","stroke":"#fde725","strokeWidth":1},"encoding":{"x":{"field":"c0","type":"quantitative","scale":{"domain":[-15.62,21.82],"nice":false,"zero":false},"axis":null},"x2":{"field":"c1"},"y":{"field":"t","type":"quantitative","scale":{"domain":[0,1],"reverse":true,"nice":false,"zero":false},"axis":null},"y2":{"field":"b"},"color":{"field":"v","type":"quantitative","scale":{"scheme":"viridis","domain":[-2,5.5],"nice":false,"zero":false}}}},
{"data":{"name":"wells"},"mark":{"type":"point","filled":true,"shape":"circle","size":78,"stroke":"black","strokeWidth":1.2,"opacity":1},"encoding":{"x":{"field":"x","type":"quantitative","scale":{"domain":[-15.62,21.82],"nice":false,"zero":false},"axis":null},"y":{"field":"r","type":"quantitative","scale":{"domain":[0,30],"reverse":true,"nice":false,"zero":false},"axis":null},"fill":{"field":"s","type":"nominal","scale":{"domain":["inj","prod"],"range":["#6495ed","#cd5c5c"]},"legend":null}}}
],"resolve":{"scale":{"y":"independent"}}},
{"width":185.5,"height":113.4,"title":{"text":"index: 13","dx":34.2,"dy":26.5,"frame":"group","offset":13,"baseline":"bottom","fontSize":23,"anchor":"middle"},"data":{"name":"cells"},"transform":[{"filter":"datum.p == 13"}],
"layer":[
{"transform":[{"filter":"datum.v < 0"}],"mark":"rect","encoding":{"x":{"field":"c0","type":"quantitative","scale":{"domain":[-15.62,21.82],"nice":false,"zero":false},"axis":null},"x2":{"field":"c1"},"y":{"field":"t","type":"quantitative","scale":{"domain":[0,1],"reverse":true,"nice":false,"zero":false},"axis":null},"y2":{"field":"b"},"color":{"field":"v","type":"quantitative","scale":{"scheme":"viridis","domain":[-2,5.5],"nice":false,"zero":false}}}},
{"transform":[{"filter":"datum.v > 0"}],"mark":{"type":"rect","stroke":"#fde725","strokeWidth":1},"encoding":{"x":{"field":"c0","type":"quantitative","scale":{"domain":[-15.62,21.82],"nice":false,"zero":false},"axis":null},"x2":{"field":"c1"},"y":{"field":"t","type":"quantitative","scale":{"domain":[0,1],"reverse":true,"nice":false,"zero":false},"axis":null},"y2":{"field":"b"},"color":{"field":"v","type":"quantitative","scale":{"scheme":"viridis","domain":[-2,5.5],"nice":false,"zero":false}}}},
{"data":{"name":"wells"},"mark":{"type":"point","filled":true,"shape":"circle","size":78,"stroke":"black","strokeWidth":1.2,"opacity":1},"encoding":{"x":{"field":"x","type":"quantitative","scale":{"domain":[-15.62,21.82],"nice":false,"zero":false},"axis":null},"y":{"field":"r","type":"quantitative","scale":{"domain":[0,30],"reverse":true,"nice":false,"zero":false},"axis":null},"fill":{"field":"s","type":"nominal","scale":{"domain":["inj","prod"],"range":["#6495ed","#cd5c5c"]},"legend":null}}}
],"resolve":{"scale":{"y":"independent"}}},
{"width":185.5,"height":113.4,"title":{"text":"index: 14","dx":34.2,"dy":26.5,"frame":"group","offset":13,"baseline":"bottom","fontSize":23,"anchor":"middle"},"data":{"name":"cells"},"transform":[{"filter":"datum.p == 14"}],
"layer":[
{"transform":[{"filter":"datum.v < 0"}],"mark":"rect","encoding":{"x":{"field":"c0","type":"quantitative","scale":{"domain":[-15.62,21.82],"nice":false,"zero":false},"axis":null},"x2":{"field":"c1"},"y":{"field":"t","type":"quantitative","scale":{"domain":[0,1],"reverse":true,"nice":false,"zero":false},"axis":null},"y2":{"field":"b"},"color":{"field":"v","type":"quantitative","scale":{"scheme":"viridis","domain":[-2,5.5],"nice":false,"zero":false}}}},
{"transform":[{"filter":"datum.v > 0"}],"mark":{"type":"rect","stroke":"#fde725","strokeWidth":1},"encoding":{"x":{"field":"c0","type":"quantitative","scale":{"domain":[-15.62,21.82],"nice":false,"zero":false},"axis":null},"x2":{"field":"c1"},"y":{"field":"t","type":"quantitative","scale":{"domain":[0,1],"reverse":true,"nice":false,"zero":false},"axis":null},"y2":{"field":"b"},"color":{"field":"v","type":"quantitative","scale":{"scheme":"viridis","domain":[-2,5.5],"nice":false,"zero":false}}}},
{"data":{"name":"wells"},"mark":{"type":"point","filled":true,"shape":"circle","size":78,"stroke":"black","strokeWidth":1.2,"opacity":1},"encoding":{"x":{"field":"x","type":"quantitative","scale":{"domain":[-15.62,21.82],"nice":false,"zero":false},"axis":null},"y":{"field":"r","type":"quantitative","scale":{"domain":[0,30],"reverse":true,"nice":false,"zero":false},"axis":null},"fill":{"field":"s","type":"nominal","scale":{"domain":["inj","prod"],"range":["#6495ed","#cd5c5c"]},"legend":null}}}
],"resolve":{"scale":{"y":"independent"}}},
{"width":185.5,"height":113.4,"title":{"text":"index: 15","dx":34.2,"dy":26.5,"frame":"group","offset":13,"baseline":"bottom","fontSize":23,"anchor":"middle"},"data":{"name":"cells"},"transform":[{"filter":"datum.p == 15"}],
"layer":[
{"transform":[{"filter":"datum.v < 0"}],"mark":"rect","encoding":{"x":{"field":"c0","type":"quantitative","scale":{"domain":[-15.62,21.82],"nice":false,"zero":false},"axis":null},"x2":{"field":"c1"},"y":{"field":"t","type":"quantitative","scale":{"domain":[0,1],"reverse":true,"nice":false,"zero":false},"axis":null},"y2":{"field":"b"},"color":{"field":"v","type":"quantitative","scale":{"scheme":"viridis","domain":[-2,5.5],"nice":false,"zero":false}}}},
{"transform":[{"filter":"datum.v > 0"}],"mark":{"type":"rect","stroke":"#fde725","strokeWidth":1},"encoding":{"x":{"field":"c0","type":"quantitative","scale":{"domain":[-15.62,21.82],"nice":false,"zero":false},"axis":null},"x2":{"field":"c1"},"y":{"field":"t","type":"quantitative","scale":{"domain":[0,1],"reverse":true,"nice":false,"zero":false},"axis":null},"y2":{"field":"b"},"color":{"field":"v","type":"quantitative","scale":{"scheme":"viridis","domain":[-2,5.5],"nice":false,"zero":false}}}},
{"data":{"name":"wells"},"mark":{"type":"point","filled":true,"shape":"circle","size":78,"stroke":"black","strokeWidth":1.2,"opacity":1},"encoding":{"x":{"field":"x","type":"quantitative","scale":{"domain":[-15.62,21.82],"nice":false,"zero":false},"axis":null},"y":{"field":"r","type":"quantitative","scale":{"domain":[0,30],"reverse":true,"nice":false,"zero":false},"axis":null},"fill":{"field":"s","type":"nominal","scale":{"domain":["inj","prod"],"range":["#6495ed","#cd5c5c"]},"legend":null}}}
],"resolve":{"scale":{"y":"independent"}}}
]
},
{
"title":{"text":"(b)","anchor":"start","frame":"group","fontSize":24,"fontWeight":"bold","dx":9,"dy":30,"offset":0,"baseline":"bottom"},
"vconcat":[
{
"width":813.5,"height":367,
"view":{"stroke":"black","strokeWidth":1.2},
"title":{"text":"Optimisation Results for Evaluation Permeabilities","fontSize":18,"frame":"group","offset":7,"dy":14.8,"baseline":"bottom","anchor":"middle"},
"data":{"name":"results"},
"encoding":{
"x":{"field":"idx","type":"ordinal","sort":[2,14,10,9,6,4,12,15,0,8,5,13,7,3,11,1],"scale":{"type":"point","padding":0.75},"axis":{"title":"evaluation sample index","labelAngle":0,"labelFont":"Liberation Sans","labelFontSize":16,"labelColor":"black","tickColor":"black","tickSize":5,"labelPadding":4,"domain":false,"grid":true,"gridColor":"#e3e3e3","titleFont":"Liberation Sans","titleFontSize":16,"titleFontWeight":"normal","titleColor":"black","titlePadding":8}},
"y":{"field":"rf","type":"quantitative","scale":{"domain":[55.89,72.5],"nice":false,"zero":false},"axis":{"title":"recovery factor %","values":[56,58,60,62,64,66,68,70,72],"labelFont":"Liberation Serif","labelFontSize":17,"labelColor":"black","tickColor":"black","tickSize":5,"labelPadding":5,"domain":false,"grid":true,"gridColor":"#e3e3e3","titleFont":"Liberation Sans","titleFontSize":16,"titleFontWeight":"normal","titleColor":"black","titlePadding":9}}
},
"layer":[
{"mark":{"type":"line","strokeDash":[7.4,3.2],"strokeWidth":2},"encoding":{"stroke":{"field":"series","type":"nominal","scale":{"domain":["single-grid (β = 1)","fixed multi-grid","adaptive multi-grid","DE","Base"],"range":["#1f77b4","#ff7f0e","#2ca02c","#808080","#a52a2a"]}}}},
{"mark":{"type":"point","filled":true,"size":400,"strokeWidth":0,"opacity":1},"encoding":{
"color":{"field":"series","type":"nominal","scale":{"domain":["single-grid (β = 1)","fixed multi-grid","adaptive multi-grid","DE","Base"],"range":["#1f77b4","#ff7f0e","#2ca02c","#808080","#a52a2a"]},"legend":{"title":null,"orient":"none","legendX":301.7,"legendY":117,"labelFont":"Liberation Sans","labelFontSize":18,"labelColor":"black","symbolSize":400,"symbolOffset":11,"symbolStrokeWidth":2,"symbolOpacity":1,"padding":5,"rowPadding":3,"labelOffset":23,"fillColor":"rgba(255,255,255,0.8)","strokeColor":"#cccccc","cornerRadius":4,"encode":{"symbols":{"update":{"strokeWidth":{"value":2}}}}}},
"stroke":{"field":"series","type":"nominal","scale":{"domain":["single-grid (β = 1)","fixed multi-grid","adaptive multi-grid","DE","Base"],"range":["#1f77b4","#ff7f0e","#2ca02c","#808080","#a52a2a"]},"legend":{"title":null,"orient":"none","legendX":301.7,"legendY":117}},
"shape":{"field":"series","type":"nominal","scale":{"domain":["single-grid (β = 1)","fixed multi-grid","adaptive multi-grid","DE","Base"],"range":["M-1.85,0H-1.11M-0.8,0H-0.06M0.28,0H1.02M1.33,0H1.85M0.5,0A0.5,0.5,0,1,1,-0.5,0A0.5,0.5,0,1,1,0.5,0Z","M-1.85,0H-1.11M-0.8,0H-0.06M0.28,0H1.02M1.33,0H1.85M0.5,0A0.5,0.5,0,1,1,-0.5,0A0.5,0.5,0,1,1,0.5,0Z","M-1.85,0H-1.11M-0.8,0H-0.06M0.28,0H1.02M1.33,0H1.85M0.5,0A0.5,0.5,0,1,1,-0.5,0A0.5,0.5,0,1,1,0.5,0Z","M-1.85,0H-1.11M-0.8,0H-0.06M0.28,0H1.02M1.33,0H1.85M0.28,0A0.28,0.28,0,1,1,-0.28,0A0.28,0.28,0,1,1,0.28,0Z","M-1.85,0H-1.11M-0.8,0H-0.06M0.28,0H1.02M1.33,0H1.85M0.28,0A0.28,0.28,0,1,1,-0.28,0A0.28,0.28,0,1,1,0.28,0Z"]},"legend":{"title":null,"orient":"none","legendX":301.7,"legendY":117}}
}}
]
}
]
}
]
}
